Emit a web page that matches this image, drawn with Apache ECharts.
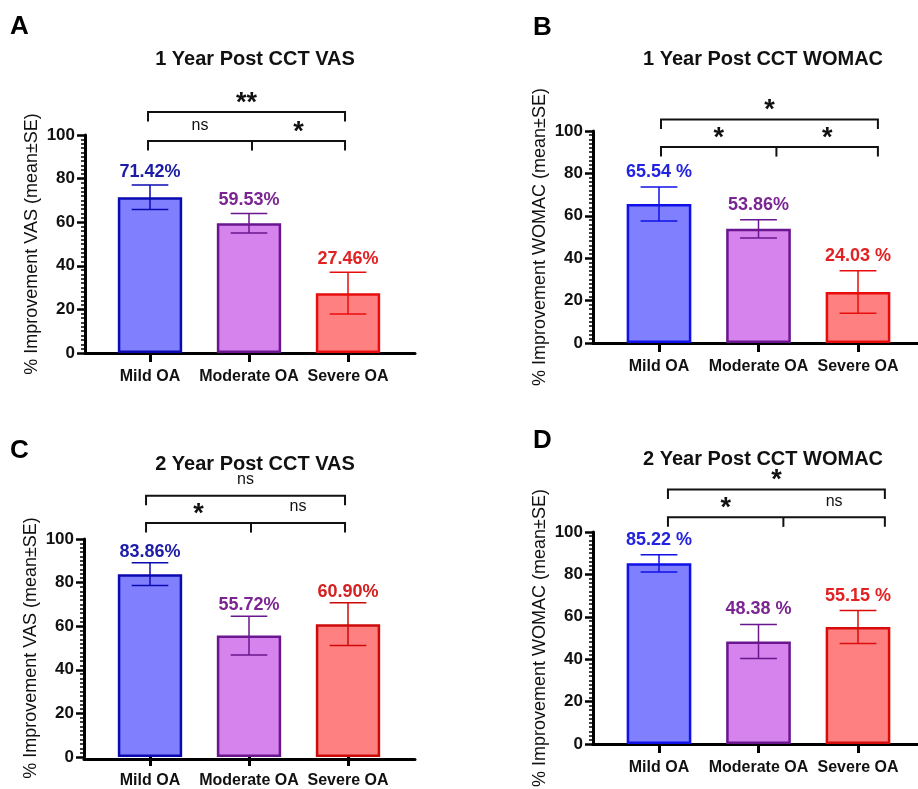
<!DOCTYPE html>
<html><head><meta charset="utf-8">
<script src="https://cdn.jsdelivr.net/npm/echarts@6/dist/echarts.min.js"></script>
<style>html,body{margin:0;padding:0;background:#fff}#c{width:918px;height:789px}</style>
</head><body><div id="c"></div>
<script>
// ---------------- DATA ----------------
const categories = ['Mild OA', 'Moderate OA', 'Severe OA'];
const yTickMin = 0, yTickMax = 100, yTickStep = 20;

const titleA = '1 Year Post CCT VAS';
const titleB = '1 Year Post CCT WOMAC';
const titleC = '2 Year Post CCT VAS';
const titleD = '2 Year Post CCT WOMAC';

const yNameVAS = '% Improvement VAS (mean±SE)';
const yNameWOMAC = '% Improvement WOMAC (mean±SE)';

const meanA = [71.42, 59.53, 27.46];
const seA = [5.6, 4.5, 9.6];
const labelsA = ['71.42%', '59.53%', '27.46%'];

const meanB = [65.54, 53.86, 24.03];
const seB = [8.0, 4.3, 10.0];
const labelsB = ['65.54 %', '53.86%', '24.03 %'];

const meanC = [83.86, 55.72, 60.90];
const seC = [5.2, 8.9, 9.8];
const labelsC = ['83.86%', '55.72%', '60.90%'];

const meanD = [85.22, 48.38, 55.15];
const seD = [4.1, 8.0, 7.8];
const labelsD = ['85.22 %', '48.38 %', '55.15 %'];

// significance brackets: xs in category units, level in y units
const bracketsA = [
  { xs: [-0.02, 1.97], level: 110.5, marks: ['**'] },
  { xs: [-0.02, 1.03, 1.97], level: 97.2, marks: ['ns', '*'] }
];
const bracketsB = [
  { xs: [0.02, 2.2], level: 105.4, marks: ['*'] },
  { xs: [0.02, 1.18, 2.2], level: 92.4, marks: ['*', '*'] }
];
const bracketsC = [
  { xs: [-0.04, 1.97], level: 119.8, marks: ['ns'] },
  { xs: [-0.04, 1.02, 1.97], level: 107.3, marks: ['*', 'ns'] }
];
const bracketsD = [
  { xs: [0.09, 2.27], level: 120.0, marks: ['*'] },
  { xs: [0.09, 1.25, 2.27], level: 106.9, marks: ['*', 'ns'] }
];

// ---------------- STYLE / LAYOUT ----------------
const FONT = '"Liberation Sans", Arial, Helvetica, sans-serif';
const fillColors = ['#8080FF', '#D683EE', '#FF8080'];

const panels = [
  { letter: 'A', title: titleA, yName: yNameVAS, mean: meanA, se: seA, labels: labelsA, brackets: bracketsA,
    yx: 85, top: 135, bottom: 353, c0: 150, c2: 348, extRight: 415, titleX: 250, titleY: 56, letterX: 10, letterY: 26, labelGap: 13,
    border: ['#0A0AB0', '#6A168E', '#E80C0C'], labelColor: ['#1C1CA6', '#7B2592', '#E22222'] },
  { letter: 'B', title: titleB, yName: yNameWOMAC, mean: meanB, se: seB, labels: labelsB, brackets: bracketsB,
    yx: 593, top: 131, bottom: 343, c0: 659, c2: 858, extRight: 918, titleX: 758, titleY: 56, letterX: 533, letterY: 27, labelGap: 15,
    border: ['#1010E8', '#6A168E', '#E80C0C'], labelColor: ['#2222E0', '#7B2592', '#E22222'] },
  { letter: 'C', title: titleC, yName: yNameVAS, mean: meanC, se: seC, labels: labelsC, brackets: bracketsC,
    yx: 84, top: 539, bottom: 759, c0: 150, c2: 348, extRight: 415, titleX: 250, titleY: 461, letterX: 10, letterY: 450, labelGap: 11,
    border: ['#0A0AB0', '#6A168E', '#CC0A0A'], labelColor: ['#1C1CA6', '#7B2592', '#D42020'] },
  { letter: 'D', title: titleD, yName: yNameWOMAC, mean: meanD, se: seD, labels: labelsD, brackets: bracketsD,
    yx: 593, top: 532, bottom: 744, c0: 659, c2: 858, extRight: 918, titleX: 758, titleY: 456, letterX: 533, letterY: 440, labelGap: 15,
    border: ['#1010E8', '#6A168E', '#D80C0C'], labelColor: ['#2222E0', '#7B2592', '#E22222'] }
];

const grid = [], xAxis = [], yAxis = [], series = [], title = [];

panels.forEach((p, i) => {
  const band = (p.c2 - p.c0) / 2;
  const gLeft = p.c0 - band / 2;
  const h = p.bottom - p.top;
  grid.push({ left: gLeft, top: p.top, width: band * 3, height: h });
  grid.push({ left: p.yx, top: p.top, width: p.extRight - p.yx, height: h });

  xAxis.push({
    type: 'category', gridIndex: 2 * i, data: categories,
    axisLine: { show: false },
    axisTick: { show: true, alignWithLabel: true, length: 9, lineStyle: { width: 3, color: '#000' } },
    axisLabel: { interval: 0, hideOverlap: false, fontFamily: FONT, fontSize: 16, fontWeight: 'bold', color: '#111', margin: 16 },
    splitLine: { show: false }
  });
  xAxis.push({
    type: 'value', gridIndex: 2 * i + 1, min: 0, max: 1,
    axisLine: { show: true, onZero: false, lineStyle: { width: 3, color: '#000' } },
    axisTick: { show: false }, axisLabel: { show: false }, splitLine: { show: false }
  });
  yAxis.push({
    type: 'value', gridIndex: 2 * i, min: yTickMin, max: yTickMax, interval: yTickStep,
    offset: gLeft - p.yx,
    axisLine: { show: true, lineStyle: { width: 3, color: '#000' } },
    axisTick: { show: true, length: 8, lineStyle: { width: 2.5, color: '#000' } },
    minorTick: { show: true, splitNumber: 10, length: 4, lineStyle: { width: 1.5, color: '#000' } },
    splitLine: { show: false }, minorSplitLine: { show: false },
    axisLabel: { fontFamily: FONT, fontSize: 17, fontWeight: 'bold', color: '#111', margin: 10 },
    name: p.yName, nameLocation: 'middle', nameGap: 44,
    nameTextStyle: { fontFamily: FONT, fontSize: 18, color: '#111' }
  });
  yAxis.push({ type: 'value', gridIndex: 2 * i + 1, min: 0, max: 1, show: false });

  series.push({
    type: 'bar', xAxisIndex: 2 * i, yAxisIndex: 2 * i, barWidth: '65%', silent: true,
    data: p.mean.map((v, j) => ({ value: v, itemStyle: { color: fillColors[j], borderColor: p.border[j], borderWidth: 2.5 } }))
  });

  series.push({
    type: 'custom', xAxisIndex: 2 * i, yAxisIndex: 2 * i, silent: true, clip: false, z: 5,
    data: p.mean.map((v, j) => [j, v, p.se[j]]),
    renderItem: function (params, api) {
      const j = api.value(0), m = api.value(1), s = api.value(2);
      const t = api.coord([j, m + s]);
      const b = api.coord([j, m - s]);
      const half = api.size([1, 0])[0] * 0.185;
      const col = p.border[j];
      const ls = { stroke: col, lineWidth: 1.5 };
      return { type: 'group', children: [
        { type: 'line', shape: { x1: t[0], y1: t[1], x2: b[0], y2: b[1] }, style: ls },
        { type: 'line', shape: { x1: t[0] - half, y1: t[1], x2: t[0] + half, y2: t[1] }, style: ls },
        { type: 'line', shape: { x1: b[0] - half, y1: b[1], x2: b[0] + half, y2: b[1] }, style: ls },
        { type: 'text', x: t[0], y: t[1] - p.labelGap,
          style: { text: p.labels[j], fill: p.labelColor[j], fontFamily: FONT, fontSize: 18, fontWeight: 'bold', align: 'center', verticalAlign: 'middle' } }
      ] };
    }
  });

  series.push({
    type: 'custom', xAxisIndex: 2 * i, yAxisIndex: 2 * i, silent: true, clip: false, z: 5,
    data: p.brackets.map(bk => [bk.xs[0], bk.level]),
    renderItem: function (params, api) {
      const bk = p.brackets[params.dataIndex];
      const band2 = api.size([1, 0])[0];
      const base = api.coord([0, bk.level]);
      const px = bk.xs.map(x => base[0] + x * band2);
      const y = base[1], d = 9.5;
      const ls = { stroke: '#111', lineWidth: 2, fill: null };
      const last = px.length - 1;
      const children = [
        { type: 'polyline', shape: { points: [[px[0], y + d], [px[0], y], [px[last], y], [px[last], y + d]] }, style: ls }
      ];
      for (let k = 1; k < last; k++) {
        children.push({ type: 'line', shape: { x1: px[k], y1: y, x2: px[k], y2: y + d }, style: ls });
      }
      bk.marks.forEach((mk, k) => {
        const cx = (px[k] + px[k + 1]) / 2;
        const star = mk.indexOf('*') >= 0;
        children.push({ type: 'text', x: cx, y: star ? y - 9 : y - 16,
          style: { text: mk, fill: '#111', fontFamily: FONT, fontSize: star ? 27 : 16, fontWeight: star ? 'bold' : 'normal', align: 'center', verticalAlign: 'middle' } });
      });
      return { type: 'group', children };
    }
  });

  title.push({ text: p.title, left: p.titleX, top: p.titleY - 12, textAlign: 'center',
    textStyle: { fontFamily: FONT, fontSize: 20, fontWeight: 'bold', color: '#111' } });
  title.push({ text: p.letter, left: p.letterX, top: p.letterY - 12, padding: 0,
    textStyle: { fontFamily: FONT, fontSize: 26, fontWeight: 'bold', color: '#000' } });
});

const chart = echarts.init(document.getElementById('c'), null, { renderer: 'canvas' });
chart.setOption({ animation: false, backgroundColor: '#fff', title, grid, xAxis, yAxis, series });
</script>
</body></html>
